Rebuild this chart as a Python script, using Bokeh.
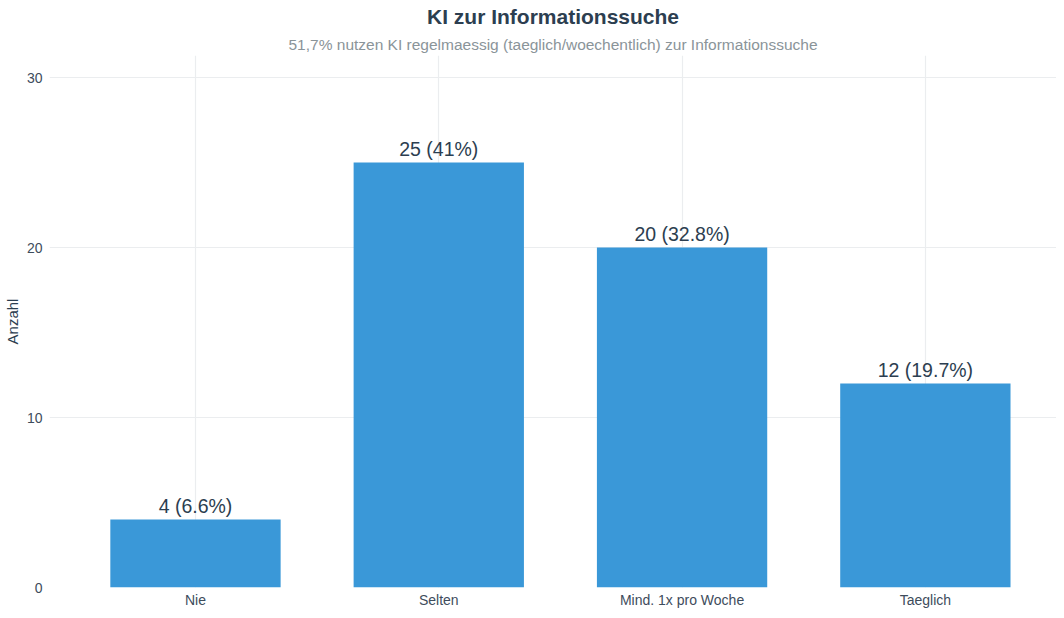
from bokeh.plotting import figure
from bokeh.models import Range1d, FixedTicker, Title, ColumnDataSource
from bokeh.core.properties import value
from bokeh.embed import file_html
from bokeh.resources import INLINE

categories = ["Nie", "Selten", "Mind. 1x pro Woche", "Taeglich"]
counts = [4, 25, 20, 12]
percents = [6.6, 41.0, 32.8, 19.7]
y_ticks = [0, 10, 20, 30]
title_text = "KI zur Informationssuche"
subtitle_text = "51,7% nutzen KI regelmaessig (taeglich/woechentlich) zur Informationssuche"
y_label = "Anzahl"

FONT = "Liberation Sans"
DARK = "#2c3e50"
TICK = "#3e4c5c"
GRID = "#ebedef"
BAR = "#3a98d8"

xs = list(range(1, len(categories) + 1))
labels = [f"{c} ({p:g}%)" for c, p in zip(counts, percents)]
src = ColumnDataSource(dict(x=xs, top=counts, label=labels))

p = figure(width=1056, height=610, output_backend="svg", toolbar_location=None,
           x_range=Range1d(0.4, 4.539), y_range=Range1d(0, 31.3),
           min_border_left=42, min_border_right=0, min_border_bottom=0, min_border_top=0,
           title=None)
p.outline_line_color = None
p.background_fill_color = "white"
p.border_fill_color = "white"

p.add_layout(Title(text=subtitle_text, align="center", text_font=FONT, text_font_size="15.5px",
                   text_font_style="normal", text_color="#8a9499", standoff=6), "above")
p.add_layout(Title(text=title_text, align="center", text_font=FONT, text_font_size="21px",
                   text_font_style="bold", text_color=DARK, standoff=5), "above")

p.vbar(x="x", top="top", bottom=0, width=0.7, source=src, fill_color=BAR, line_color=None)
p.text(x="x", y="top", text="label", source=src, text_align="center", text_baseline="bottom",
       y_offset=-3, text_font=value(FONT), text_font_size="19.5px", text_color=DARK)

p.xaxis.ticker = FixedTicker(ticks=xs)
p.xaxis.major_label_overrides = {i: c for i, c in zip(xs, categories)}
p.yaxis.ticker = FixedTicker(ticks=y_ticks)
for ax in (p.xaxis, p.yaxis):
    ax.axis_line_color = None
    ax.major_tick_line_color = None
    ax.minor_tick_line_color = None
    ax.major_tick_out = 0
    ax.major_tick_in = 0
    ax.major_label_text_font = FONT
    ax.major_label_text_font_size = "14px"
    ax.major_label_text_color = TICK
p.xaxis.major_label_standoff = 4
p.xaxis.axis_label_standoff = 0
p.yaxis.major_label_standoff = 7
p.yaxis.axis_label = y_label
p.yaxis.axis_label_text_font = FONT
p.yaxis.axis_label_text_font_size = "15px"
p.yaxis.axis_label_text_font_style = "normal"
p.yaxis.axis_label_text_color = DARK
p.yaxis.axis_label_standoff = 3

p.xgrid.ticker = FixedTicker(ticks=xs)
p.ygrid.ticker = FixedTicker(ticks=y_ticks)
p.xgrid.grid_line_color = GRID
p.ygrid.grid_line_color = GRID
p.xgrid.grid_line_width = 1.2
p.ygrid.grid_line_width = 1.2

open("out.html", "w").write(file_html(p, INLINE))
